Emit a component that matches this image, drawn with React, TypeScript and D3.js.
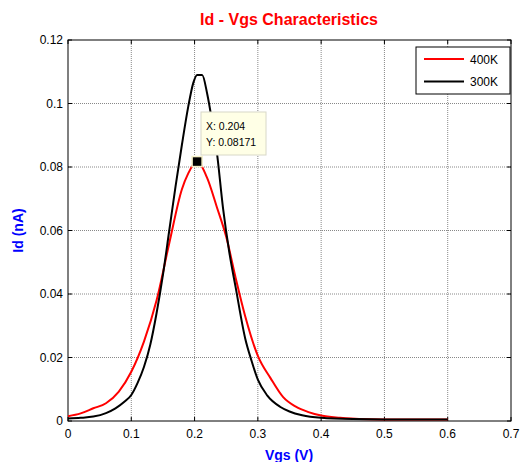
import React, { useEffect, useRef } from "react";
import * as d3 from "d3";

const vgs400 = [0, 0.02, 0.04, 0.06, 0.08, 0.1, 0.12, 0.14, 0.16, 0.18, 0.19, 0.204, 0.22, 0.235, 0.25, 0.265, 0.28, 0.3, 0.32, 0.34, 0.36, 0.38, 0.4, 0.43, 0.46, 0.5, 0.55, 0.6];
const id400 = [0.0015, 0.0024, 0.004, 0.0056, 0.0092, 0.0155, 0.025, 0.038, 0.056, 0.073, 0.078, 0.08171, 0.0765, 0.0675, 0.058, 0.045, 0.033, 0.0205, 0.0135, 0.0075, 0.0045, 0.0028, 0.0017, 0.001, 0.0006, 0.0005, 0.0005, 0.0005];

const vgs300 = [0, 0.02, 0.04, 0.06, 0.075, 0.09, 0.1, 0.11, 0.12, 0.13, 0.14, 0.15, 0.16, 0.17, 0.18, 0.19, 0.198, 0.204, 0.212, 0.22, 0.228, 0.235, 0.245, 0.255, 0.265, 0.28, 0.29, 0.3, 0.315, 0.335, 0.35, 0.37, 0.4, 0.45, 0.5, 0.6];
const id300 = [0.0008, 0.001, 0.0014, 0.0025, 0.004, 0.0062, 0.0082, 0.012, 0.017, 0.024, 0.034, 0.046, 0.06, 0.074, 0.087, 0.099, 0.1065, 0.109, 0.109, 0.103, 0.094, 0.085, 0.067, 0.053, 0.042, 0.026, 0.019, 0.013, 0.008, 0.0045, 0.003, 0.0018, 0.001, 0.0006, 0.0005, 0.0005];

const xTicks = [0, 0.1, 0.2, 0.3, 0.4, 0.5, 0.6, 0.7];
const yTicks = [0, 0.02, 0.04, 0.06, 0.08, 0.1, 0.12];
const seriesNames = ["400K", "300K"];
const seriesColors = ["#ff0000", "#000000"];
const tipPoint = { x: 0.204, y: 0.08171 };

function App() {
  const ref = useRef<SVGSVGElement>(null);

  useEffect(() => {
    if (!ref.current) return;
    const svg = d3.select(ref.current);
    svg.selectAll("*").remove();

    const left = 68, right = 511, top = 40, bottom = 421;
    const font = "Liberation Sans, Arial, sans-serif";

    const x = d3.scaleLinear().domain([0, 0.7]).range([left, right]);
    const y = d3.scaleLinear().domain([0, 0.12]).range([bottom, top]);

    svg.append("rect").attr("x", left).attr("y", top)
      .attr("width", right - left).attr("height", bottom - top).attr("fill", "#fff");

    // grid
    svg.selectAll(".vgrid").data(xTicks.slice(1, -1)).enter().append("line")
      .attr("x1", d => x(d)).attr("x2", d => x(d))
      .attr("y1", top).attr("y2", bottom)
      .attr("stroke", "#888").attr("stroke-dasharray", "1,1");
    svg.selectAll(".hgrid").data(yTicks.slice(1, -1)).enter().append("line")
      .attr("x1", left).attr("x2", right)
      .attr("y1", d => y(d)).attr("y2", d => y(d))
      .attr("stroke", "#888").attr("stroke-dasharray", "1,1");

    // ticks inside the frame
    const tl = 4;
    xTicks.forEach(t => {
      svg.append("line").attr("x1", x(t)).attr("x2", x(t)).attr("y1", bottom).attr("y2", bottom - tl).attr("stroke", "#000");
      svg.append("line").attr("x1", x(t)).attr("x2", x(t)).attr("y1", top).attr("y2", top + tl).attr("stroke", "#000");
    });
    yTicks.forEach(t => {
      svg.append("line").attr("x1", left).attr("x2", left + tl).attr("y1", y(t)).attr("y2", y(t)).attr("stroke", "#000");
      svg.append("line").attr("x1", right).attr("x2", right - tl).attr("y1", y(t)).attr("y2", y(t)).attr("stroke", "#000");
    });

    svg.append("rect").attr("x", left).attr("y", top)
      .attr("width", right - left).attr("height", bottom - top)
      .attr("fill", "none").attr("stroke", "#000");

    // tick labels
    svg.selectAll(".xl").data(xTicks).enter().append("text")
      .attr("x", d => x(d)).attr("y", 438)
      .attr("text-anchor", "middle").attr("font-family", font).attr("font-size", 12)
      .text(d => d3.format("")(d));
    svg.selectAll(".yl").data(yTicks).enter().append("text")
      .attr("x", left - 5).attr("y", d => y(d) + 4)
      .attr("text-anchor", "end").attr("font-family", font).attr("font-size", 12)
      .text(d => d3.format("")(d));

    // lines
    const line = d3.line<[number, number]>().x(d => x(d[0])).y(d => y(d[1])).curve(d3.curveMonotoneX);
    const data400 = vgs400.map((v, i) => [v, id400[i]] as [number, number]);
    const data300 = vgs300.map((v, i) => [v, id300[i]] as [number, number]);
    [data400, data300].forEach((d, i) => {
      svg.append("path").datum(d).attr("d", line)
        .attr("fill", "none").attr("stroke", seriesColors[i]).attr("stroke-width", 2)
        .attr("stroke-linejoin", "round");
    });

    // data tip
    svg.append("rect").attr("x", x(tipPoint.x) - 5).attr("y", y(tipPoint.y) - 5)
      .attr("width", 10).attr("height", 10)
      .attr("fill", "#000").attr("stroke", "#f5f0c8").attr("stroke-width", 1.5);
    const tx = 201, ty = 112;
    svg.append("rect").attr("x", tx).attr("y", ty).attr("width", 65).attr("height", 43)
      .attr("fill", "#ffffe6").attr("stroke", "#d8d8c8");
    svg.append("text").attr("x", tx + 5).attr("y", ty + 18)
      .attr("font-family", font).attr("font-size", 10.5).text(`X: ${tipPoint.x}`);
    svg.append("text").attr("x", tx + 5).attr("y", ty + 34)
      .attr("font-family", font).attr("font-size", 10.5).text(`Y: ${tipPoint.y}`);

    // legend
    const lg = svg.append("g");
    lg.append("rect").attr("x", 416).attr("y", 47).attr("width", 94).attr("height", 47)
      .attr("fill", "#fff").attr("stroke", "#000");
    seriesNames.forEach((n, i) => {
      const ly = 59 + i * 22.5;
      lg.append("line").attr("x1", 424).attr("x2", 464).attr("y1", ly).attr("y2", ly)
        .attr("stroke", seriesColors[i]).attr("stroke-width", 2);
      lg.append("text").attr("x", 470).attr("y", ly + 4.5)
        .attr("font-family", font).attr("font-size", 12).text(n);
    });

    // titles
    svg.append("text").attr("x", 289).attr("y", 25).attr("text-anchor", "middle")
      .attr("font-family", font).attr("font-size", 16).attr("font-weight", "bold")
      .attr("fill", "#ff0000").text("Id - Vgs Characteristics");
    svg.append("text").attr("x", 289).attr("y", 460).attr("text-anchor", "middle")
      .attr("font-family", font).attr("font-size", 14).attr("font-weight", "bold")
      .attr("fill", "#0000ff").text("Vgs (V)");
    svg.append("text").attr("transform", `translate(23, ${(top + bottom) / 2}) rotate(-90)`)
      .attr("text-anchor", "middle")
      .attr("font-family", font).attr("font-size", 14).attr("font-weight", "bold")
      .attr("fill", "#0000ff").text("Id (nA)");
  }, []);

  return (
    <svg ref={ref} width={523} height={462}
      style={{ position: "absolute", left: 0, top: 0, background: "#fff" }} />
  );
}

export default App;
